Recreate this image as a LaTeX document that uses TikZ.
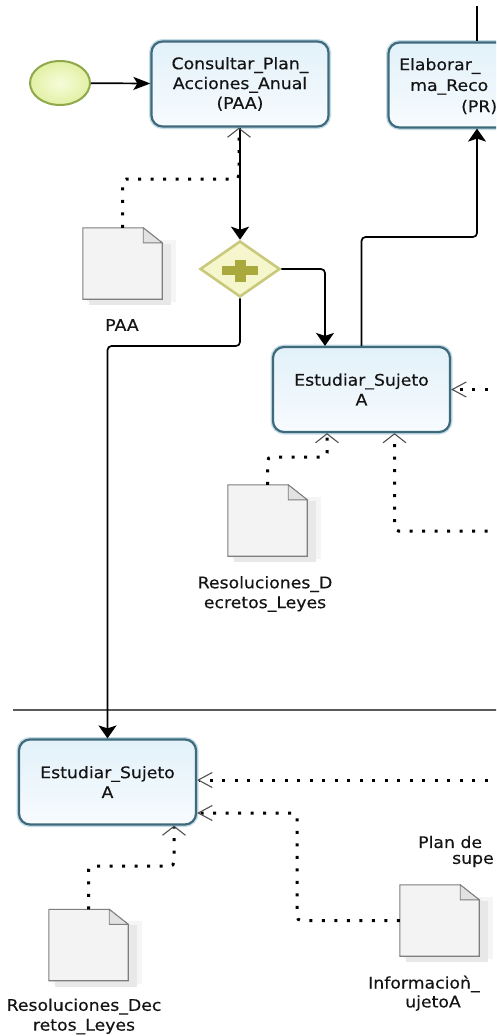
\documentclass[tikz,border=0pt]{standalone}
\usepackage{fontspec}
\setmainfont{DejaVu Sans}[FakeStretch=1.08, FakeBold=0.35]
\usetikzlibrary{arrows.meta,shapes.geometric,calc}
\definecolor{taskline}{HTML}{3F6A7C}
\definecolor{taskglow}{HTML}{C4DCE6}
\definecolor{tasktop}{HTML}{E2F1F9}
\definecolor{taskbot}{HTML}{F7FBFE}
\definecolor{startline}{HTML}{8FA84A}
\definecolor{startin}{HTML}{F6FCDA}
\definecolor{startout}{HTML}{E2F0A4}
\definecolor{gwline}{HTML}{C9C97C}
\definecolor{gwfill}{HTML}{F6F6CC}
\definecolor{gwplus}{HTML}{A9A93E}
\definecolor{docline}{HTML}{7E7E7E}
\definecolor{docfill}{HTML}{F3F3F3}
\definecolor{docfold}{HTML}{E2E2E2}
\definecolor{txt}{HTML}{141414}
\definecolor{lanel}{HTML}{5A5A5A}
\definecolor{barb}{HTML}{505050}
\newcommand\bpmndoc[1]{%
  \fill[black!4] ([xshift=4pt,yshift=-3pt]#1.south west) rectangle ([xshift=14pt,yshift=-12pt]#1.north east);
  \fill[black!9] ([xshift=6pt,yshift=-6pt]#1.south west) rectangle ([xshift=9pt,yshift=-16pt]#1.north east);
  \filldraw[draw=docline, fill=docfill, line width=1.1pt, line join=miter]
    (#1.south west) -- (#1.north west) -- ([xshift=-19pt]#1.north east)
    -- ([yshift=-15pt]#1.north east) -- (#1.south east) -- cycle;
  \filldraw[draw=docline, fill=docfold, line width=0.9pt]
    ([xshift=-19pt]#1.north east) -- ([xshift=-19pt,yshift=-15pt]#1.north east)
    -- ([yshift=-15pt]#1.north east) -- cycle;
}
\begin{document}
\begin{tikzpicture}[x=1pt,y=-1pt,
  every node/.style={font=\fontsize{16}{19.8}\selectfont, text=txt},
  task/.style={rectangle, rounded corners=11pt, minimum width=177pt, minimum height=85pt,
    align=center, inner sep=0pt, top color=tasktop, bottom color=taskbot,
    draw=taskline, line width=2.2pt, preaction={draw=taskglow, line width=5pt}},
  startev/.style={ellipse, minimum width=60pt, minimum height=44pt, inner sep=0pt,
    draw=startline, line width=2pt, shading=radial, inner color=startin, outer color=startout},
  gateway/.style={diamond, minimum width=80pt, minimum height=56pt, inner sep=0pt,
    draw=gwline, line width=2.6pt, fill=gwfill},
  docbox/.style={rectangle, minimum width=79pt, minimum height=71pt, inner sep=0pt},
  seq/.style={draw=black, line width=1.7pt, rounded corners=4pt},
  seqV/.style={-{Stealth[length=13pt,width=18pt,inset=3pt]}},
  seqH/.style={-{Stealth[length=17pt,width=13pt,inset=4pt]}},
  assoc/.style={draw=black, line width=3pt, dash pattern=on 3pt off 9.5pt, rounded corners=4pt},
  assocV/.style={-{Straight Barb[length=9pt,width=23pt,line width=1.1pt,color=barb]}},
  assocH/.style={-{Straight Barb[length=14pt,width=15pt,line width=1.1pt,color=barb]}},
]
\useasboundingbox (0,0) rectangle (496,1036);
\clip (0,0) rectangle (496,1036);
\fill[white] (0,0) rectangle (496,1036);

% lane separator
\draw[lanel, line width=1.2pt] (13,710) -- (500,710);

% documents
\node[docbox] (dPAA) at (122.5,263.5) {};
\node[docbox] (dRes1) at (267.5,520.5) {};
\node[docbox] (dRes2) at (88.5,945) {};
\node[docbox] (dInf) at (439.5,920.5) {};
\bpmndoc{dPAA}
\bpmndoc{dRes1}
\bpmndoc{dRes2}
\bpmndoc{dInf}
\node (lPAA) at (122,325) {PAA};
\node[align=center] (lRes1) at (265,594) {Resoluciones\_D\\ecretos\_Leyes};
\node[align=center] (lRes2) at (84,1016.5) {Resoluciones\_Dec\\retos\_Leyes};
\node[anchor=west, inner sep=0pt] (lInf1) at (368,984) {Informacioǹ\_};
\node[inner sep=0pt] (lInf2) at (433,1003) {ujetoA};
\node[anchor=west, inner sep=0pt] (lPlan1) at (418,842) {Plan de};
\node[anchor=west, inner sep=0pt] (lPlan2) at (452,861) {supe};

% flow objects
\node[startev] (s) at (60,83) {};
\node[task] (t1) at (240,84) {Consultar\_Plan\_\\Acciones\_Anual\\(PAA)};
\node[task] (t2) at (477,85) {};
\node[anchor=west, inner sep=0pt] (t2a) at (399,66) {Elaborar\_};
\node[anchor=west, inner sep=0pt] (t2b) at (410,87) {ma\_Reco};
\node[anchor=west, inner sep=0pt] (t2c) at (461,107) {(PR)};
\node[gateway] (g) at (240,269) {};
\fill[gwplus] ($(g)+(-18,-3)$) rectangle ($(g)+(18,6)$);
\fill[gwplus] ($(g)+(-5.5,-9.5)$) rectangle ($(g)+(5.5,12.5)$);
\node[task] (t3) at (361.5,389.5) {Estudiar\_Sujeto\\A};
\node[task] (t4) at (107.5,782) {Estudiar\_Sujeto\\A};

% free ends
\coordinate (topin) at (477,6);
\coordinate (e1) at (500,389.5);
\coordinate (e2) at (500,531);
\coordinate (e3) at (500,780);
\coordinate (k1) at (297,813);

% sequence flows
\draw[seq, seqH] (s) -- (t1);
\draw[seq, seqV] (t1) -- (g);
\draw[seq, seqV] (g.east) -| ([xshift=-36.5pt]t3.north);
\draw[seq, seqV] (g.south) -- (g.south |- 0,346) -| (t4.north);
\draw[seq, seqV] (t3.north) -- (t3.north |- 0,237) -| (t2.south);
\draw[seq] (topin) -- (t2.north);

% data associations
\draw[assoc, assocV] (dPAA.north) -- (dPAA.north |- 0,179) -| ([xshift=-1pt]t1.south);
\draw[assoc, assocV] (dRes1.north) -- (dRes1.north |- 0,457) -| ([xshift=-34.5pt]t3.south);
\draw[assoc, assocV] (e2) -| ([xshift=33pt]t3.south);
\draw[assoc, assocH] (e1) -- (t3.east);
\draw[assoc, assocH] (e3) -- ([yshift=2pt]t4.east);
\draw[assoc, assocH] (dInf.west) -| (k1) -- ([yshift=-31pt]t4.east);
\draw[assoc, assocV] (dRes2.north) -- (dRes2.north |- 0,866) -| ([xshift=66.5pt]t4.south);
\end{tikzpicture}
\end{document}
